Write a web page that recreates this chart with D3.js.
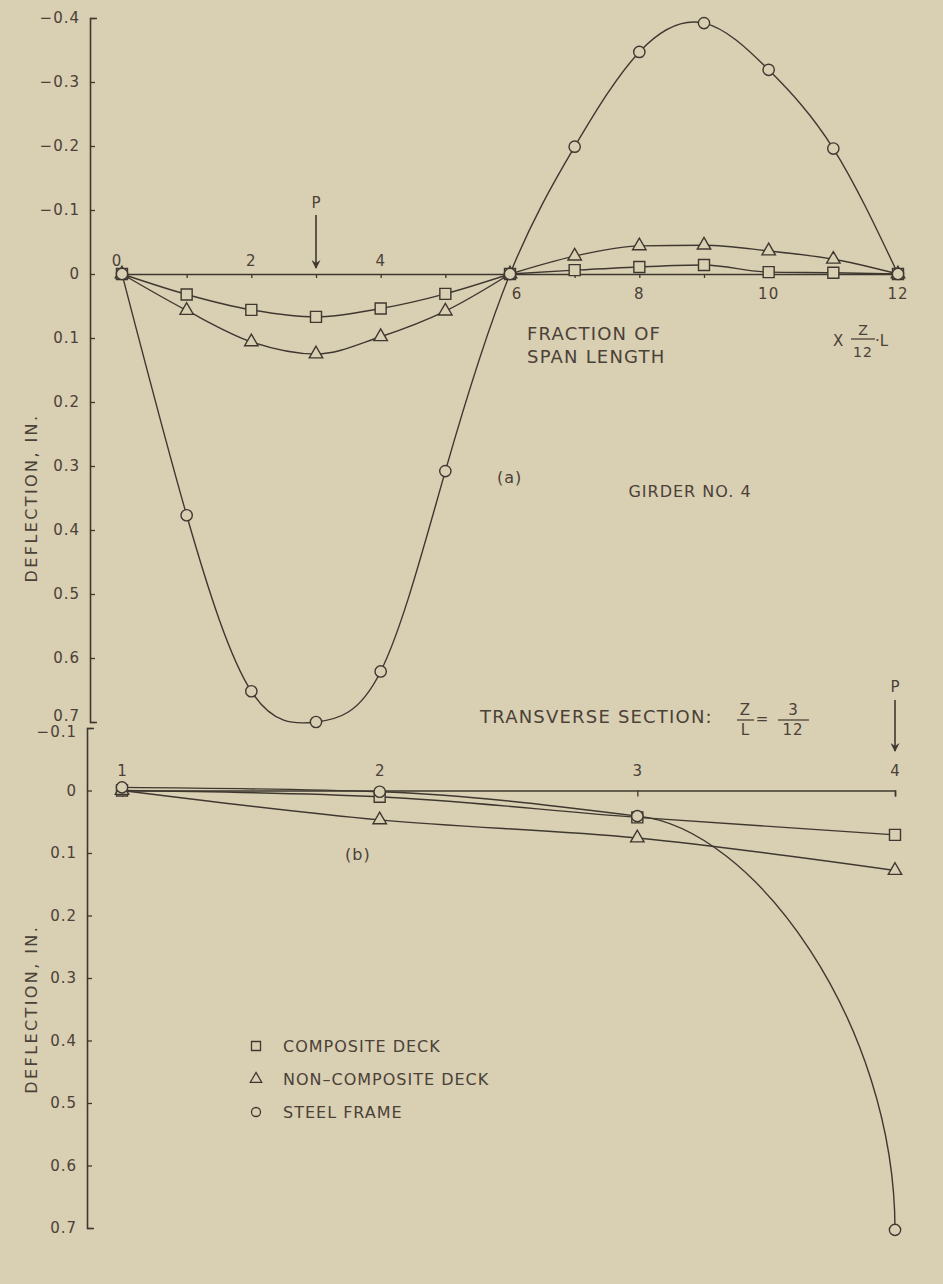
<!DOCTYPE html>
<html>
<head>
<meta charset="utf-8">
<script src="https://cdn.jsdelivr.net/npm/d3@7"></script>
<style>
  body { margin: 0; background: #d9cfb3; }
  svg { display: block; }
  text { font-family: "DejaVu Sans", sans-serif; fill: #4a4137; }
</style>
</head>
<body>
<div id="chart"></div>
<script>
// girder deflection along the span, fraction x Z/12 L  (positive = downward)
const spanPoints = [0, 1, 2, 3, 4, 5, 6, 7, 8, 9, 10, 11, 12];
const compositeSpan = [0, 0.032, 0.056, 0.067, 0.054, 0.031, 0, -0.006, -0.011, -0.014, -0.003, -0.002, 0];
const nonCompositeSpan = [0, 0.057, 0.106, 0.125, 0.098, 0.058, 0, -0.028, -0.044, -0.045, -0.036, -0.023, 0];
const steelSpan = [0, 0.377, 0.652, 0.700, 0.621, 0.308, 0, -0.199, -0.347, -0.392, -0.319, -0.196, 0];

// transverse section Z/L = 3/12, girders 1..4
const girders = [1, 2, 3, 4];
const compositeSection = [0, 0.010, 0.043, 0.071];
const nonCompositeSection = [0, 0.047, 0.076, 0.128];
const steelSection = [-0.005, 0.002, 0.041, 0.703];

const topYTicks = [-0.4, -0.3, -0.2, -0.1, 0, 0.1, 0.2, 0.3, 0.4, 0.5, 0.6, 0.7];
const spanTickLabels = [0, 2, 4, 6, 8, 10, 12];
const bottomYTicks = [-0.1, 0, 0.1, 0.2, 0.3, 0.4, 0.5, 0.6, 0.7];
const legendLabels = ["COMPOSITE DECK", "NON\u2013COMPOSITE DECK", "STEEL FRAME"];

const width = 943;
const height = 1284;
const ink = "#3f3830";
const paper = "#d9cfb3";

const svg = d3.select("#chart")
  .append("svg")
  .attr("width", width)
  .attr("height", height);

svg.append("rect").attr("width", width).attr("height", height).attr("fill", paper);

svg.append("defs").append("marker")
  .attr("id", "arrow")
  .attr("viewBox", "0 0 10 10")
  .attr("refX", 9).attr("refY", 5)
  .attr("markerWidth", 13).attr("markerHeight", 9)
  .attr("markerUnits", "userSpaceOnUse")
  .attr("orient", "auto")
  .append("path")
  .attr("d", "M0,0 L10,5 L0,10 L3.5,5 Z")
  .attr("fill", ink);

const xTop = d3.scaleLinear().domain([0, 12]).range([122, 898]);
const yTop = d3.scaleLinear().domain([-0.4, 0.7]).range([18, 722]);
const xBot = d3.scaleLinear().domain([1, 4]).range([122, 895]);
const yBot = d3.scaleLinear().domain([-0.1, 0.7]).range([728, 1228]);

const fmt = d => d === 0 ? "0" : d3.format(".1f")(d);

function styleAxis(g, fontSize) {
  g.select(".domain").attr("stroke", ink).attr("stroke-width", 1.6);
  g.selectAll(".tick line").attr("stroke", ink).attr("stroke-width", 1.3);
  g.selectAll(".tick text")
    .attr("fill", "#4a4137")
    .style("font-family", "DejaVu Sans")
    .style("font-size", fontSize + "px")
    .style("letter-spacing", "1px");
}

// ---------- (a) span ----------
const topY = svg.append("g")
  .attr("transform", "translate(90,0)")
  .call(d3.axisLeft(yTop).tickValues(topYTicks).tickFormat(fmt)
    .tickSizeInner(-5).tickSizeOuter(-7).tickPadding(10));
styleAxis(topY, 15);
topY.selectAll(".tick text").filter(d => d === 0.7).attr("dy", "-0.1em");

const topX = svg.append("g")
  .attr("transform", `translate(0,${yTop(0)})`)
  .call(d3.axisBottom(xTop).tickValues(spanPoints).tickFormat("")
    .tickSizeInner(4).tickSizeOuter(0));
styleAxis(topX, 15);

svg.append("g").selectAll("text")
  .data(spanTickLabels)
  .join("text")
  .attr("x", d => xTop(d) + (d === 0 ? -5 : d === 6 ? 7 : 0))
  .attr("y", d => d <= 4 ? yTop(0) - 8 : yTop(0) + 25)
  .attr("text-anchor", "middle")
  .style("font-size", "15px")
  .style("letter-spacing", "1px")
  .text(d => d);

const spanSeries = [
  { values: compositeSpan, symbol: d3.symbolSquare, size: 121 },
  { values: nonCompositeSpan, symbol: d3.symbolTriangle, size: 78 },
  { values: steelSpan, symbol: d3.symbolCircle, size: 100 }
];

const lineTop = d3.line()
  .x(d => xTop(d[0]))
  .y(d => yTop(d[1]));

spanSeries.forEach((s, k) => {
  const pts = spanPoints.map((x, i) => [x, s.values[i]]);
  // steel frame reads as one smooth wave; the decks kink at the support (6)
  const pieces = k === 2 ? [pts] : [pts.slice(0, 7), pts.slice(6)];
  pieces.forEach(p => {
    svg.append("path")
      .attr("d", lineTop.curve(k === 2 ? d3.curveNatural : d3.curveMonotoneX)(p))
      .attr("fill", "none")
      .attr("stroke", ink)
      .attr("stroke-width", 1.4);
  });
});

spanSeries.forEach(s => {
  svg.append("g").selectAll("path")
    .data(spanPoints.map((x, i) => [x, s.values[i]]))
    .join("path")
    .attr("transform", d => `translate(${xTop(d[0])},${yTop(d[1])})`)
    .attr("d", d3.symbol(s.symbol, s.size))
    .attr("fill", paper)
    .attr("stroke", ink)
    .attr("stroke-width", 1.4);
});

// load P at 3/12
svg.append("text").attr("x", xTop(3)).attr("y", 208).attr("text-anchor", "middle")
  .style("font-size", "15px").text("P");
svg.append("line")
  .attr("x1", xTop(3)).attr("x2", xTop(3))
  .attr("y1", 215).attr("y2", yTop(0) - 6)
  .attr("stroke", ink).attr("stroke-width", 1.6)
  .attr("marker-end", "url(#arrow)");

svg.append("text").attr("x", 527).attr("y", 340)
  .style("font-size", "18px").style("letter-spacing", "1.2px").text("FRACTION OF");
svg.append("text").attr("x", 527).attr("y", 363)
  .style("font-size", "18px").style("letter-spacing", "1.2px").text("SPAN LENGTH");

svg.append("text").attr("x", 833).attr("y", 346).style("font-size", "15px").text("X");
svg.append("text").attr("x", 863).attr("y", 335).attr("text-anchor", "middle")
  .style("font-size", "14px").text("Z");
svg.append("line").attr("x1", 851).attr("x2", 875).attr("y1", 339).attr("y2", 339)
  .attr("stroke", ink).attr("stroke-width", 1.2);
svg.append("text").attr("x", 863).attr("y", 357).attr("text-anchor", "middle")
  .style("font-size", "14px").style("letter-spacing", "1px").text("12");
svg.append("text").attr("x", 875).attr("y", 346).style("font-size", "15px").text("\u00b7L");

svg.append("text").attr("x", 497).attr("y", 483)
  .style("font-size", "16px").style("letter-spacing", "1px").text("(a)");
svg.append("text").attr("x", 690).attr("y", 497).attr("text-anchor", "middle")
  .style("font-size", "16px").style("letter-spacing", "1px").text("GIRDER NO. 4");

svg.append("text")
  .attr("transform", `translate(37,${(yTop(0.2) + yTop(0.5)) / 2}) rotate(-90)`)
  .attr("text-anchor", "middle")
  .style("font-size", "16px").style("letter-spacing", "2.4px")
  .text("DEFLECTION, IN.");

// ---------- (b) transverse section ----------
const botY = svg.append("g")
  .attr("transform", "translate(87,0)")
  .call(d3.axisLeft(yBot).tickValues(bottomYTicks).tickFormat(fmt)
    .tickSizeInner(-5).tickSizeOuter(-7).tickPadding(10));
styleAxis(botY, 15);
botY.selectAll(".tick text").filter(d => d === -0.1).attr("dy", "0.55em");

const botX = svg.append("g")
  .attr("transform", `translate(0,${yBot(0)})`)
  .call(d3.axisBottom(xBot).tickValues(girders).tickFormat("")
    .tickSizeInner(6).tickSizeOuter(6));
styleAxis(botX, 15);

svg.append("g").selectAll("text")
  .data(girders)
  .join("text")
  .attr("x", d => xBot(d))
  .attr("y", yBot(0) - 15)
  .attr("text-anchor", "middle")
  .style("font-size", "15px")
  .text(d => d);

const lineBot = d3.line()
  .x(d => xBot(d[0]))
  .y(d => yBot(d[1]))
  .curve(d3.curveMonotoneX);

const sectionSeries = [
  { values: compositeSection, symbol: d3.symbolSquare, size: 121 },
  { values: nonCompositeSection, symbol: d3.symbolTriangle, size: 78 },
  { values: steelSection, symbol: d3.symbolCircle, size: 100 }
];

sectionSeries.forEach((s, k) => {
  const pts = girders.map((x, i) => [x, s.values[i]]);
  let d;
  if (k < 2) {
    d = lineBot(pts);
  } else {
    // steel frame: smooth through 1-3, then a drop that turns vertical into girder 4
    const p = d3.path();
    lineBot.context(p)(pts.slice(0, 3));
    lineBot.context(null);
    const [x2, y2] = [xBot(pts[1][0]), yBot(pts[1][1])];
    const [x3, y3] = [xBot(pts[2][0]), yBot(pts[2][1])];
    const [x4, y4] = [xBot(pts[3][0]), yBot(pts[3][1])];
    p.bezierCurveTo(x3 + 0.45 * (x3 - x2), y3 + 0.45 * (y3 - y2),
      x4, y4 - 0.5 * (y4 - y3), x4, y4);
    d = p.toString();
  }
  svg.append("path")
    .attr("d", d)
    .attr("fill", "none")
    .attr("stroke", ink)
    .attr("stroke-width", 1.4);
});

sectionSeries.forEach(s => {
  svg.append("g").selectAll("path")
    .data(girders.map((x, i) => [x, s.values[i]]))
    .join("path")
    .attr("transform", d => `translate(${xBot(d[0])},${yBot(d[1])})`)
    .attr("d", d3.symbol(s.symbol, s.size))
    .attr("fill", paper)
    .attr("stroke", ink)
    .attr("stroke-width", 1.4);
});

svg.append("text").attr("x", 480).attr("y", 723)
  .style("font-size", "18px").style("letter-spacing", "1.2px").text("TRANSVERSE SECTION:");
svg.append("text").attr("x", 745).attr("y", 715).attr("text-anchor", "middle")
  .style("font-size", "15px").text("Z");
svg.append("line").attr("x1", 737).attr("x2", 754).attr("y1", 720).attr("y2", 720)
  .attr("stroke", ink).attr("stroke-width", 1.2);
svg.append("text").attr("x", 745).attr("y", 735).attr("text-anchor", "middle")
  .style("font-size", "15px").text("L");
svg.append("text").attr("x", 762).attr("y", 724).attr("text-anchor", "middle")
  .style("font-size", "15px").text("=");
svg.append("text").attr("x", 793).attr("y", 715).attr("text-anchor", "middle")
  .style("font-size", "15px").text("3");
svg.append("line").attr("x1", 778).attr("x2", 809).attr("y1", 720).attr("y2", 720)
  .attr("stroke", ink).attr("stroke-width", 1.2);
svg.append("text").attr("x", 793).attr("y", 735).attr("text-anchor", "middle")
  .style("font-size", "15px").style("letter-spacing", "1px").text("12");

// load P over girder 4
svg.append("text").attr("x", xBot(4)).attr("y", 692).attr("text-anchor", "middle")
  .style("font-size", "15px").text("P");
svg.append("line")
  .attr("x1", xBot(4)).attr("x2", xBot(4))
  .attr("y1", 700).attr("y2", 751)
  .attr("stroke", ink).attr("stroke-width", 1.6)
  .attr("marker-end", "url(#arrow)");

svg.append("text").attr("x", 345).attr("y", 860)
  .style("font-size", "16px").style("letter-spacing", "1px").text("(b)");

svg.append("text")
  .attr("transform", `translate(37,${(yBot(0.2) + yBot(0.5)) / 2}) rotate(-90)`)
  .attr("text-anchor", "middle")
  .style("font-size", "16px").style("letter-spacing", "2.4px")
  .text("DEFLECTION, IN.");

// legend
const legendSymbols = [d3.symbolSquare, d3.symbolTriangle, d3.symbolCircle];
const legendSizes = [81, 56, 64];
const legend = svg.append("g").selectAll("g")
  .data(legendLabels)
  .join("g")
  .attr("transform", (d, i) => `translate(256,${1046 + i * 33})`);
legend.append("path")
  .attr("d", (d, i) => d3.symbol(legendSymbols[i], legendSizes[i])())
  .attr("fill", "none")
  .attr("stroke", ink)
  .attr("stroke-width", 1.3);
legend.append("text")
  .attr("x", 27).attr("y", 6)
  .style("font-size", "16px").style("letter-spacing", "1px")
  .text(d => d);
</script>
</body>
</html>
